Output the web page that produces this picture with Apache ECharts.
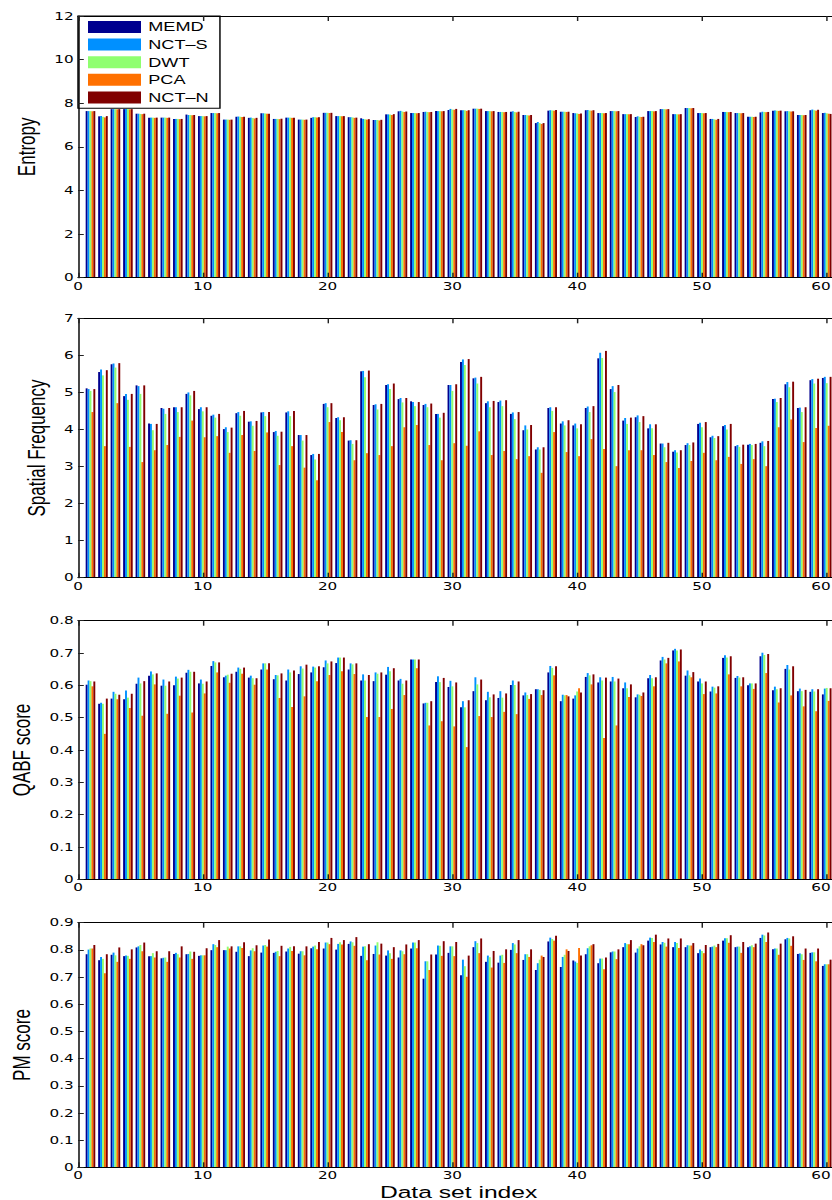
<!DOCTYPE html>
<html>
<head>
<meta charset="utf-8">
<script src="https://cdn.jsdelivr.net/npm/echarts@6.0.0/dist/echarts.min.js"></script>
<style>
html,body{margin:0;padding:0;background:#fff;overflow:hidden}
#wrap{width:832px;height:1200px;overflow:hidden;position:relative}
#main{width:574px;height:1200px;transform:scaleX(1.449477);transform-origin:0 0}
</style>
</head>
<body>
<div id="wrap"><div id="main"></div></div>
<script>
// ---------------- data ----------------
const datasetIndex = [1,2,3,4,5,6,7,8,9,10,11,12,13,14,15,16,17,18,19,20,
  21,22,23,24,25,26,27,28,29,30,31,32,33,34,35,36,37,38,39,40,
  41,42,43,44,45,46,47,48,49,50,51,52,53,54,55,56,57,58,59,60];
const methodNames = ['MEMD','NCT\u2013S','DWT','PCA','NCT\u2013N'];
const xTickLabels = ['0','10','20','30','40','50','60'];

const entropyMEMD = [7.64,7.40,7.73,7.73,7.52,7.34,7.34,7.28,7.48,7.41,
  7.55,7.25,7.38,7.33,7.54,7.28,7.34,7.25,7.33,7.56,
  7.41,7.36,7.31,7.23,7.49,7.63,7.55,7.60,7.64,7.69,
  7.68,7.75,7.64,7.60,7.61,7.46,7.09,7.66,7.61,7.55,
  7.68,7.55,7.64,7.50,7.37,7.64,7.73,7.50,7.78,7.55,
  7.28,7.60,7.55,7.38,7.58,7.66,7.63,7.46,7.68,7.55];
const entropyNCTS = [7.64,7.42,7.73,7.73,7.52,7.34,7.34,7.28,7.46,7.41,
  7.55,7.25,7.39,7.34,7.54,7.28,7.34,7.25,7.36,7.56,
  7.41,7.36,7.28,7.23,7.49,7.65,7.55,7.61,7.64,7.74,
  7.68,7.75,7.64,7.60,7.63,7.46,7.14,7.68,7.61,7.54,
  7.69,7.55,7.64,7.50,7.40,7.64,7.73,7.50,7.78,7.55,
  7.28,7.60,7.55,7.38,7.61,7.67,7.64,7.46,7.71,7.56];
const entropyDWT = [7.64,7.38,7.73,7.73,7.51,7.34,7.34,7.28,7.46,7.41,
  7.55,7.25,7.38,7.32,7.53,7.28,7.34,7.25,7.36,7.56,
  7.41,7.35,7.27,7.23,7.48,7.62,7.55,7.60,7.64,7.71,
  7.68,7.75,7.64,7.60,7.60,7.45,7.09,7.67,7.61,7.53,
  7.67,7.55,7.64,7.50,7.38,7.64,7.73,7.50,7.78,7.55,
  7.26,7.60,7.55,7.38,7.60,7.66,7.63,7.46,7.68,7.54];
const entropyPCA = [7.63,7.35,7.72,7.72,7.50,7.33,7.33,7.27,7.45,7.40,
  7.54,7.24,7.37,7.30,7.52,7.27,7.33,7.24,7.35,7.55,
  7.40,7.33,7.25,7.21,7.46,7.60,7.54,7.59,7.63,7.70,
  7.65,7.74,7.63,7.59,7.58,7.44,7.05,7.66,7.60,7.51,
  7.66,7.54,7.63,7.49,7.37,7.63,7.72,7.49,7.77,7.54,
  7.24,7.59,7.54,7.37,7.59,7.65,7.62,7.45,7.66,7.52];
const entropyNCTN = [7.64,7.41,7.73,7.73,7.52,7.34,7.34,7.28,7.46,7.41,
  7.55,7.25,7.38,7.33,7.52,7.29,7.34,7.25,7.36,7.56,
  7.41,7.34,7.27,7.24,7.50,7.62,7.55,7.60,7.64,7.74,
  7.68,7.75,7.64,7.60,7.61,7.46,7.09,7.69,7.61,7.53,
  7.68,7.55,7.64,7.50,7.38,7.64,7.73,7.50,7.78,7.55,
  7.28,7.60,7.55,7.38,7.60,7.66,7.63,7.46,7.70,7.51];

const sfMEMD = [5.11,5.55,5.76,4.90,5.19,4.16,4.58,4.60,4.96,4.55,
  4.37,4.01,4.44,4.21,4.46,3.93,4.46,3.85,3.31,4.69,
  4.31,3.70,5.57,4.66,5.20,4.82,4.76,4.66,4.42,5.20,
  5.82,5.38,4.71,4.74,4.42,3.98,3.46,4.58,4.16,4.11,
  4.58,5.92,5.09,4.24,4.33,4.03,3.62,3.40,3.58,4.15,
  3.79,4.09,3.55,3.59,3.64,4.82,5.22,4.58,5.33,5.39];
const sfNCTS = [5.09,5.62,5.78,4.96,5.17,4.15,4.56,4.60,5.00,4.60,
  4.40,4.06,4.47,4.22,4.47,3.96,4.49,3.85,3.34,4.71,
  4.33,3.71,5.58,4.68,5.22,4.85,4.74,4.69,4.42,5.20,
  5.89,5.40,4.76,4.78,4.46,4.11,3.52,4.60,4.22,4.16,
  4.62,6.07,5.17,4.31,4.38,4.14,3.62,3.44,3.63,4.18,
  3.83,4.12,3.58,3.61,3.68,4.83,5.28,4.59,5.36,5.42];
const sfDWT = [5.04,5.46,5.67,4.80,4.96,3.98,4.42,4.47,4.92,4.49,
  4.32,3.93,4.37,4.10,4.36,3.83,4.36,3.70,3.19,4.60,
  4.25,3.61,5.41,4.54,5.09,4.73,4.63,4.60,4.32,5.04,
  5.74,5.24,4.60,4.63,4.28,4.00,3.46,4.50,4.11,4.03,
  4.47,5.93,5.01,4.15,4.20,4.03,3.52,3.38,3.58,4.06,
  3.77,4.00,3.53,3.58,3.55,4.74,5.14,4.47,5.24,5.25];
const sfPCA = [4.47,3.55,4.71,3.53,3.12,3.44,3.58,3.80,4.24,3.79,
  3.82,3.37,3.85,3.42,3.92,3.04,3.55,2.97,2.63,4.20,
  3.93,3.17,3.36,3.31,3.55,4.06,4.12,3.58,3.17,3.63,
  3.56,3.95,3.31,3.42,3.20,3.28,2.83,3.93,3.39,3.28,
  3.74,3.47,3.01,3.44,3.44,3.31,3.12,2.96,3.15,3.37,
  3.17,3.26,3.07,3.20,3.01,4.06,4.27,3.66,4.04,4.10];
const sfNCTN = [5.09,5.60,5.79,4.96,5.19,4.15,4.58,4.60,5.04,4.60,
  4.42,4.05,4.50,4.23,4.47,3.94,4.50,3.85,3.34,4.71,
  4.33,3.71,5.59,4.69,5.24,4.85,4.74,4.70,4.45,5.22,
  5.90,5.42,4.77,4.79,4.47,4.12,3.52,4.60,4.25,4.14,
  4.63,6.12,5.20,4.32,4.36,4.14,3.64,3.44,3.65,4.20,
  3.82,4.15,3.59,3.61,3.69,4.85,5.29,4.60,5.37,5.42];

const qabfMEMD = [0.602,0.543,0.559,0.557,0.605,0.630,0.599,0.600,0.639,0.606,
  0.660,0.625,0.642,0.624,0.649,0.619,0.615,0.635,0.640,0.656,
  0.669,0.649,0.615,0.613,0.633,0.615,0.680,0.544,0.610,0.595,
  0.532,0.582,0.554,0.561,0.601,0.569,0.588,0.640,0.551,0.559,
  0.626,0.609,0.612,0.591,0.563,0.622,0.677,0.708,0.630,0.612,
  0.581,0.685,0.623,0.600,0.690,0.585,0.651,0.582,0.580,0.572];
const qabfNCTS = [0.615,0.546,0.580,0.584,0.624,0.643,0.618,0.627,0.648,0.618,
  0.675,0.630,0.655,0.630,0.668,0.632,0.649,0.659,0.658,0.677,
  0.686,0.668,0.634,0.640,0.657,0.620,0.680,0.546,0.628,0.614,
  0.551,0.625,0.580,0.582,0.615,0.578,0.588,0.660,0.571,0.569,
  0.638,0.625,0.626,0.609,0.572,0.632,0.688,0.713,0.646,0.621,
  0.596,0.693,0.629,0.606,0.701,0.596,0.663,0.590,0.588,0.590];
const qabfDWT = [0.613,0.543,0.574,0.562,0.606,0.634,0.599,0.621,0.642,0.605,
  0.671,0.633,0.651,0.622,0.668,0.631,0.640,0.652,0.655,0.668,
  0.686,0.665,0.615,0.636,0.644,0.605,0.680,0.546,0.610,0.597,
  0.532,0.603,0.563,0.562,0.601,0.570,0.586,0.654,0.569,0.581,
  0.631,0.615,0.612,0.591,0.571,0.622,0.680,0.708,0.631,0.606,
  0.593,0.686,0.624,0.606,0.694,0.588,0.649,0.582,0.581,0.592];
const qabfPCA = [0.597,0.450,0.557,0.530,0.506,0.603,0.512,0.568,0.516,0.575,
  0.640,0.608,0.636,0.602,0.649,0.561,0.533,0.566,0.613,0.632,
  0.644,0.635,0.502,0.502,0.527,0.570,0.653,0.476,0.489,0.473,
  0.409,0.505,0.502,0.518,0.511,0.558,0.570,0.631,0.570,0.591,
  0.603,0.437,0.476,0.564,0.567,0.597,0.668,0.674,0.625,0.573,
  0.575,0.634,0.597,0.589,0.638,0.547,0.569,0.535,0.520,0.552];
const qabfNCTN = [0.612,0.559,0.571,0.574,0.613,0.637,0.612,0.624,0.642,0.612,
  0.671,0.636,0.655,0.622,0.668,0.637,0.646,0.664,0.659,0.674,
  0.686,0.668,0.632,0.640,0.653,0.615,0.680,0.551,0.623,0.609,
  0.554,0.618,0.572,0.575,0.612,0.573,0.585,0.659,0.566,0.578,
  0.634,0.624,0.621,0.603,0.578,0.625,0.685,0.711,0.641,0.612,
  0.597,0.690,0.625,0.606,0.697,0.591,0.659,0.586,0.588,0.591];

const pmMEMD = [0.784,0.762,0.782,0.777,0.809,0.777,0.769,0.785,0.784,0.778,
  0.799,0.799,0.793,0.777,0.790,0.789,0.794,0.786,0.806,0.805,
  0.801,0.822,0.778,0.785,0.779,0.772,0.805,0.694,0.783,0.789,
  0.707,0.810,0.756,0.753,0.800,0.763,0.726,0.831,0.737,0.761,
  0.784,0.751,0.791,0.810,0.790,0.834,0.820,0.810,0.810,0.788,
  0.810,0.834,0.810,0.810,0.844,0.802,0.839,0.785,0.789,0.741];
const pmNCTS = [0.801,0.774,0.790,0.779,0.813,0.777,0.771,0.789,0.785,0.780,
  0.821,0.799,0.813,0.798,0.816,0.793,0.805,0.795,0.812,0.827,
  0.822,0.831,0.812,0.816,0.798,0.798,0.827,0.758,0.816,0.813,
  0.764,0.832,0.779,0.779,0.825,0.784,0.751,0.845,0.774,0.757,
  0.806,0.768,0.794,0.825,0.805,0.845,0.829,0.829,0.817,0.801,
  0.812,0.843,0.812,0.813,0.856,0.805,0.844,0.787,0.791,0.747];
const pmDWT = [0.805,0.767,0.780,0.778,0.818,0.788,0.772,0.784,0.794,0.780,
  0.818,0.812,0.813,0.806,0.818,0.796,0.811,0.795,0.816,0.827,
  0.828,0.828,0.813,0.828,0.788,0.795,0.827,0.758,0.815,0.813,
  0.740,0.825,0.773,0.782,0.820,0.784,0.764,0.840,0.782,0.752,
  0.813,0.768,0.794,0.821,0.813,0.844,0.826,0.825,0.816,0.796,
  0.816,0.843,0.812,0.817,0.853,0.805,0.842,0.784,0.791,0.747];
const pmPCA = [0.805,0.714,0.756,0.767,0.795,0.772,0.756,0.772,0.767,0.780,
  0.810,0.805,0.807,0.795,0.812,0.777,0.796,0.780,0.802,0.821,
  0.820,0.815,0.762,0.783,0.767,0.784,0.806,0.726,0.778,0.777,
  0.701,0.788,0.735,0.752,0.788,0.774,0.779,0.834,0.802,0.807,
  0.817,0.729,0.766,0.821,0.821,0.829,0.812,0.807,0.816,0.788,
  0.810,0.826,0.789,0.810,0.829,0.782,0.815,0.763,0.758,0.747];
const pmNCTN = [0.818,0.784,0.809,0.802,0.827,0.795,0.795,0.813,0.793,0.806,
  0.836,0.813,0.828,0.817,0.838,0.815,0.813,0.813,0.829,0.844,
  0.836,0.847,0.821,0.823,0.810,0.820,0.836,0.783,0.832,0.829,
  0.779,0.842,0.796,0.802,0.836,0.802,0.774,0.852,0.796,0.779,
  0.821,0.772,0.802,0.836,0.817,0.856,0.842,0.842,0.825,0.818,
  0.822,0.854,0.829,0.823,0.864,0.823,0.850,0.805,0.805,0.764];

// ---------------- layout / style ----------------
const SX = 832 / 574;            // page is drawn 574 wide and stretched horizontally
const hx = v => v / SX;          // target horizontal px -> drawing px
const colors = ['#00008F', '#0090FF', '#8FFF70', '#FF7000', '#800000'];
const FONT = '"Liberation Sans", Arial, Helvetica, sans-serif';
const TICKFONT = '"DejaVu Sans", sans-serif';

const panels = [
  { title: 'Entropy', series: [entropyMEMD, entropyNCTS, entropyDWT, entropyPCA, entropyNCTN],
    top: 16, height: 261.7, max: 12, interval: 2, nameGap: 21 },
  { title: 'Spatial Frequency', series: [sfMEMD, sfNCTS, sfDWT, sfPCA, sfNCTN],
    top: 318.3, height: 259.4, max: 7, interval: 1, nameGap: 20 },
  { title: 'QABF score', series: [qabfMEMD, qabfNCTS, qabfDWT, qabfPCA, qabfNCTN],
    top: 620.7, height: 258.6, max: 0.8, interval: 0.1, nameGap: 26 },
  { title: 'PM score', series: [pmMEMD, pmNCTS, pmDWT, pmPCA, pmNCTN],
    top: 922.7, height: 244.6, max: 0.9, interval: 0.1, nameGap: 30 }
];

const lastTick = xTickLabels[xTickLabels.length - 1];
const grids = [], xAxes = [], yAxes = [], seriesList = [];
panels.forEach((p, i) => {
  grids.push({ left: hx(78), width: hx(761.2), top: p.top, height: p.height,
    containLabel: false, outerBoundsMode: 'none' });
  const baseX = {
    gridIndex: i, type: 'value', min: 0, max: 61, interval: 10, z: 5,
    splitLine: { show: false },
    axisLine: { show: true, onZero: false, lineStyle: { color: '#000', width: 1 } },
    axisTick: { show: true, inside: true, length: 5, lineStyle: { color: '#222', width: 1 } }
  };
  xAxes.push(Object.assign({}, baseX, {
    position: 'bottom',
    axisLabel: {
      show: true, margin: 3, color: '#000', fontFamily: TICKFONT, fontSize: 10.5, showMaxLabel: false,
      formatter: v => {
        const s = String(v);
        if (xTickLabels.indexOf(s) < 0) return '';
        return s === lastTick ? '{edge|' + s + '}' : s;
      },
      rich: { edge: { padding: [0, 8, 0, 0], color: '#000', fontFamily: TICKFONT, fontSize: 10.5 } }
    },
    name: i === panels.length - 1 ? 'Data set index' : '',
    nameLocation: 'middle', nameGap: 16,
    nameTextStyle: { fontFamily: FONT, fontSize: 17, color: '#000' }
  }));
  xAxes.push(Object.assign({}, baseX, {
    position: 'top', axisLabel: { show: false }
  }));
  yAxes.push({
    gridIndex: i, type: 'value', min: 0, max: p.max, interval: p.interval, z: 5,
    position: 'left',
    splitLine: { show: false },
    axisLine: { show: true, onZero: false, lineStyle: { color: '#000', width: 1 } },
    axisTick: { show: true, inside: true, length: 4, lineStyle: { color: '#222', width: 1 } },
    axisLabel: { margin: 3, color: '#000', fontFamily: TICKFONT, fontSize: 10.5 },
    name: p.title, nameLocation: 'middle', nameRotate: 90, nameGap: p.nameGap,
    nameTextStyle: { fontFamily: FONT, fontSize: 17, color: '#000' }
  });
  p.series.forEach((vals, j) => {
    seriesList.push({
      type: 'bar', name: methodNames[j], xAxisIndex: 2 * i, yAxisIndex: i,
      data: datasetIndex.map((x, k) => [x, vals[k]]),
      itemStyle: { color: colors[j] },
      barGap: '0%', barCategoryGap: '23%',
      silent: true, animation: false
    });
  });
});

const chart = echarts.init(document.getElementById('main'), null, { renderer: 'svg' });
chart.setOption({
  animation: false,
  backgroundColor: '#fff',
  grid: grids,
  xAxis: xAxes,
  yAxis: yAxes,
  legend: {
    data: methodNames, orient: 'vertical', left: hx(78), top: 16,
    icon: 'rect', itemWidth: hx(53), itemHeight: 12, itemGap: 4.6,
    padding: [4.5, 7.8, 4.4, 6.9],
    borderColor: '#000', borderWidth: 1, backgroundColor: '#fff',
    selectedMode: false,
    textStyle: { fontFamily: FONT, fontSize: 12.5, color: '#000', lineHeight: 12 }
  },
  series: seriesList
});
</script>
</body>
</html>
